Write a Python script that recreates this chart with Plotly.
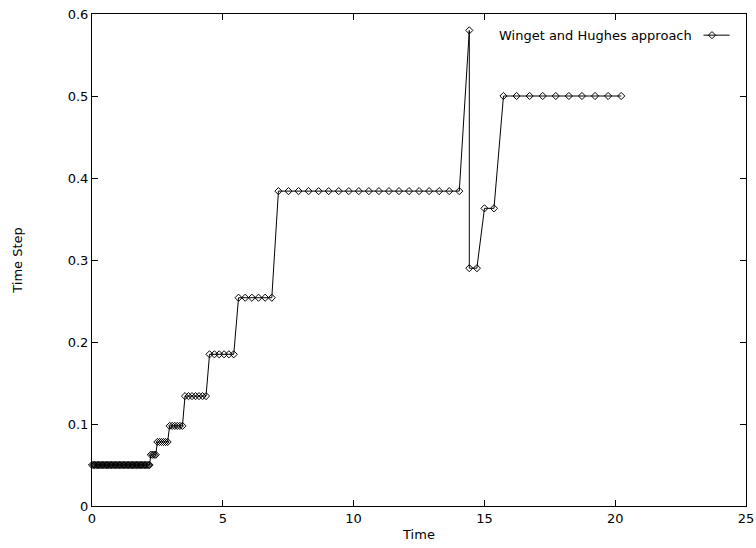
import plotly.graph_objects as go

# Adaptive time-stepping history: time at each step and the step size used there
time = [
    0.00, 0.05, 0.10, 0.15, 0.20, 0.25, 0.30, 0.35, 0.40, 0.45,
    0.50, 0.55, 0.60, 0.65, 0.70, 0.75, 0.80, 0.85, 0.90, 0.95,
    1.00, 1.05, 1.10, 1.15, 1.20, 1.25, 1.30, 1.35, 1.40, 1.45,
    1.50, 1.55, 1.60, 1.65, 1.70, 1.75, 1.80, 1.85, 1.90, 1.95,
    2.00, 2.05, 2.10, 2.15, 2.20,
    2.250, 2.313, 2.375, 2.438,
    2.500, 2.578, 2.656, 2.734, 2.813, 2.891,
    2.969, 3.066, 3.164, 3.262, 3.359, 3.457,
    3.555, 3.689, 3.823, 3.957, 4.091, 4.225, 4.359,
    4.493, 4.678, 4.863, 5.048, 5.233, 5.418,
    5.603, 5.857, 6.111, 6.365, 6.619, 6.873,
    7.127, 7.511, 7.895, 8.279, 8.663, 9.047, 9.431, 9.815, 10.199, 10.583,
    10.967, 11.351, 11.735, 12.119, 12.503, 12.887, 13.271, 13.655, 14.039,
    14.423,
    14.423, 14.713,
    15.003, 15.366,
    15.729, 16.229, 16.729, 17.229, 17.729, 18.229, 18.729, 19.229, 19.729, 20.229,
]

time_step = [
    0.05, 0.05, 0.05, 0.05, 0.05, 0.05, 0.05, 0.05, 0.05, 0.05,
    0.05, 0.05, 0.05, 0.05, 0.05, 0.05, 0.05, 0.05, 0.05, 0.05,
    0.05, 0.05, 0.05, 0.05, 0.05, 0.05, 0.05, 0.05, 0.05, 0.05,
    0.05, 0.05, 0.05, 0.05, 0.05, 0.05, 0.05, 0.05, 0.05, 0.05,
    0.05, 0.05, 0.05, 0.05, 0.05,
    0.0625, 0.0625, 0.0625, 0.0625,
    0.0781, 0.0781, 0.0781, 0.0781, 0.0781, 0.0781,
    0.0977, 0.0977, 0.0977, 0.0977, 0.0977, 0.0977,
    0.134, 0.134, 0.134, 0.134, 0.134, 0.134, 0.134,
    0.185, 0.185, 0.185, 0.185, 0.185, 0.185,
    0.254, 0.254, 0.254, 0.254, 0.254, 0.254,
    0.384, 0.384, 0.384, 0.384, 0.384, 0.384, 0.384, 0.384, 0.384, 0.384,
    0.384, 0.384, 0.384, 0.384, 0.384, 0.384, 0.384, 0.384, 0.384,
    0.58,
    0.29, 0.29,
    0.363, 0.363,
    0.5, 0.5, 0.5, 0.5, 0.5, 0.5, 0.5, 0.5, 0.5, 0.5,
]

series_name = "Winget and Hughes approach"
x_ticks = [0, 5, 10, 15, 20, 25]
y_ticks = [0, 0.1, 0.2, 0.3, 0.4, 0.5, 0.6]

FONT = "DejaVu Sans"
marker_style = dict(symbol="diamond-open", size=5.5, color="black", line=dict(width=1, color="black"))

fig = go.Figure()

fig.add_trace(go.Scatter(
    x=time, y=time_step, mode="lines+markers",
    line=dict(color="black", width=1),
    marker=marker_style,
    cliponaxis=False, showlegend=False, name=series_name,
))

# Key sample (line with marker), drawn on an overlay axis spanning the plot box
fig.add_trace(go.Scatter(
    x=[0.935, 0.975], y=[0.957, 0.957], mode="lines",
    line=dict(color="black", width=1),
    xaxis="x2", yaxis="y2", showlegend=False, hoverinfo="skip",
))
fig.add_trace(go.Scatter(
    x=[0.948], y=[0.957], mode="markers",
    marker=marker_style,
    xaxis="x2", yaxis="y2", showlegend=False, hoverinfo="skip",
))

fig.add_annotation(
    text=series_name, xref="x2", yref="y2", x=0.92, y=0.957,
    xanchor="right", yanchor="middle", showarrow=False,
    font=dict(family=FONT, size=13, color="black"),
)

axis_common = dict(
    showline=True, linecolor="black", linewidth=1, mirror="ticks",
    ticks="inside", ticklen=6, tickwidth=1, tickcolor="black",
    showgrid=False, zeroline=False, automargin=False,
    tickfont=dict(family=FONT, size=13, color="black"),
)

fig.update_layout(
    width=756, height=548,
    margin=dict(l=92, r=10, t=14, b=42),
    paper_bgcolor="white", plot_bgcolor="white",
    xaxis=dict(
        range=[0, 25], tickvals=x_ticks, ticktext=[str(v) for v in x_ticks],
        title=dict(text="Time", font=dict(family=FONT, size=13, color="black"), standoff=5),
        **axis_common,
    ),
    yaxis=dict(
        range=[0, 0.6], tickvals=y_ticks, ticktext=[("0" if v == 0 else f"{v:.1f}") for v in y_ticks],
        title=dict(text="Time Step", font=dict(family=FONT, size=13, color="black"), standoff=42),
        **axis_common,
    ),
    xaxis2=dict(overlaying="x", range=[0, 1], visible=False),
    yaxis2=dict(overlaying="y", range=[0, 1], visible=False),
)

fig.write_html("out.html")
